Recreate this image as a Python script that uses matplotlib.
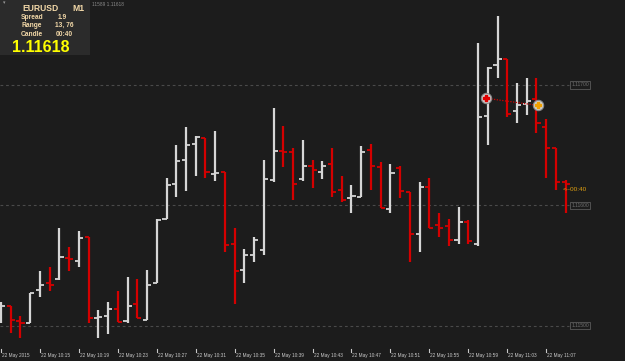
import matplotlib
matplotlib.use("Agg")
import matplotlib.pyplot as plt
import matplotlib.transforms as mtransforms

# ---- data (EURUSD M1, 22 May 2015, 10:11 .. 11:09) ----
times = ["10:11", "10:12", "10:13", "10:14", "10:15", "10:16", "10:17", "10:18", "10:19", "10:20",
         "10:21", "10:22", "10:23", "10:24", "10:25", "10:26", "10:27", "10:28", "10:29", "10:30",
         "10:31", "10:32", "10:33", "10:34", "10:35", "10:36", "10:37", "10:38", "10:39", "10:40",
         "10:41", "10:42", "10:43", "10:44", "10:45", "10:46", "10:47", "10:48", "10:49", "10:50",
         "10:51", "10:52", "10:53", "10:54", "10:55", "10:56", "10:57", "10:58", "10:59", "11:00",
         "11:01", "11:02", "11:03", "11:04", "11:05", "11:06", "11:07", "11:08", "11:09"]
opens = [1.11506, 1.11516, 1.11504, 1.11502, 1.11530, 1.11535, 1.11539, 1.11556, 1.11554, 1.11574,
         1.11506, 1.11508, 1.11514, 1.11504, 1.11518, 1.11505, 1.11535, 1.11589, 1.11618, 1.11638,
         1.11651, 1.11656, 1.11626, 1.11628, 1.11568, 1.11546, 1.11559, 1.11563, 1.11621, 1.11645,
         1.11644, 1.11622, 1.11633, 1.11628, 1.11634, 1.11613, 1.11606, 1.11607, 1.11646, 1.11632,
         1.11597, 1.11631, 1.11611, 1.11576, 1.11615, 1.11584, 1.11583, 1.11571, 1.11586, 1.11568,
         1.11674, 1.11717, 1.11722, 1.11678, 1.11684, 1.11688, 1.11665, 1.11648, 1.11619]
highs = [1.11520, 1.11516, 1.11508, 1.11527, 1.11545, 1.11549, 1.11581, 1.11565, 1.11579, 1.11574,
         1.11513, 1.11520, 1.11529, 1.11540, 1.11539, 1.11546, 1.11589, 1.11623, 1.11650, 1.11665,
         1.11658, 1.11656, 1.11662, 1.11628, 1.11581, 1.11564, 1.11574, 1.11638, 1.11681, 1.11666,
         1.11648, 1.11654, 1.11638, 1.11637, 1.11648, 1.11624, 1.11617, 1.11649, 1.11651, 1.11636,
         1.11634, 1.11633, 1.11611, 1.11619, 1.11623, 1.11594, 1.11589, 1.11599, 1.11588, 1.11735,
         1.11715, 1.11757, 1.11722, 1.11702, 1.11706, 1.11706, 1.11672, 1.11648, 1.11621]
lows = [1.11502, 1.11494, 1.11490, 1.11502, 1.11524, 1.11529, 1.11538, 1.11545, 1.11549, 1.11502,
        1.11490, 1.11493, 1.11503, 1.11502, 1.11506, 1.11505, 1.11535, 1.11589, 1.11607, 1.11612,
        1.11624, 1.11623, 1.11620, 1.11561, 1.11518, 1.11535, 1.11553, 1.11559, 1.11619, 1.11632,
        1.11604, 1.11620, 1.11614, 1.11622, 1.11607, 1.11603, 1.11594, 1.11607, 1.11613, 1.11598,
        1.11594, 1.11606, 1.11553, 1.11561, 1.11581, 1.11574, 1.11566, 1.11568, 1.11568, 1.11566,
        1.11650, 1.11706, 1.11673, 1.11668, 1.11675, 1.11660, 1.11623, 1.11613, 1.11594]
closes = [1.11516, 1.11505, 1.11502, 1.11527, 1.11534, 1.11534, 1.11557, 1.11555, 1.11573, 1.11506,
          1.11507, 1.11514, 1.11503, 1.11516, 1.11506, 1.11534, 1.11588, 1.11617, 1.11637, 1.11650,
          1.11657, 1.11628, 1.11627, 1.11567, 1.11545, 1.11559, 1.11571, 1.11622, 1.11645, 1.11644,
          1.11618, 1.11633, 1.11629, 1.11633, 1.11611, 1.11604, 1.11608, 1.11644, 1.11633, 1.11598,
          1.11627, 1.11612, 1.11576, 1.11615, 1.11581, 1.11581, 1.11571, 1.11586, 1.11570, 1.11673,
          1.11714, 1.11722, 1.11676, 1.11683, 1.11687, 1.11668, 1.11648, 1.11619, 1.11618]
level_prices = [1.11700, 1.11600, 1.11500]
level_labels = ["1.11700", "1.11600", "1.11500"]
trade_bars = [49.8, 55.2]
trade_prices = [1.11689, 1.11683]
symbol = "EURUSD"
timeframe = "M1"
spread = "1.9"
range_txt = "13, 76"
candle_left = "00:40"
bid = "1.11618"
date_label = "22 May 2015"
day_label = "22 May"

# ---- figure ----
W, H = 625, 361
fig = plt.figure(figsize=(W / 100, H / 100), dpi=100)
bg = "#1c1c1c"
fig.patch.set_facecolor(bg)
ax = fig.add_axes([0, 0, 1, 1])
ax.set_facecolor(bg)
for s in ax.spines.values():
    s.set_visible(False)
ax.set_xticks([])
ax.set_yticks([])

px_per_bar = 9.72
x0 = 1.0 / px_per_bar
ax.set_xlim(-x0, (W - 1) / px_per_bar - x0)
px_per_price = 120300.0
ax.set_ylim(1.11700 - (H - 85) / px_per_price, 1.11700 + 85 / px_per_price)

# price levels (dashed) with boxed labels at right
right_edge = (568) / px_per_bar - x0
for p, lab in zip(level_prices, level_labels):
    ax.plot([-x0, right_edge], [p, p], color="#4a4a4a", lw=0.8, ls=(0, (2.5, 2.5)), zorder=1)
    ax.text(right_edge + 0.25, p, lab, color="#6e6e6e", fontsize=3.6, family="Liberation Sans",
            va="center", ha="left",
            bbox=dict(boxstyle="square,pad=0.25", fc=bg, ec="#5a5a5a", lw=0.6), zorder=3)

# bars
up_col = "#d6d6d6"
dn_col = "#d40000"
tk = 0.42
for i in range(len(opens)):
    o, h, l, c = opens[i], highs[i], lows[i], closes[i]
    col = up_col if c >= o else dn_col
    ax.vlines(i, l, h, color=col, lw=1.6, zorder=4)
    ax.hlines(o, i - tk, i, color=col, lw=1.3, zorder=4)
    ax.hlines(c, i, i + tk, color=col, lw=1.3, zorder=4)

# trade markers
ax.plot(trade_bars, trade_prices, color="#d40000", lw=0.9, ls=(0, (1, 1.2)), zorder=5)
ax.scatter(trade_bars, trade_prices, s=55, c="#cfcfcf", edgecolors="#8a8a8a", linewidths=0.8, zorder=6)
ax.scatter(trade_bars[:1], trade_prices[:1], s=14, c="#e00000", marker="P", zorder=7)
ax.scatter(trade_bars[1:], trade_prices[1:], s=14, c="#f0a000", marker="P", zorder=7)

# countdown label
ax.text(len(opens) - 1 - 0.3, closes[-1] - 0.00005, "<--" + candle_left, color="#e0a010",
        fontsize=4.6, family="Liberation Sans", va="center", ha="left", zorder=8)

# time axis
trans = mtransforms.blended_transform_factory(ax.transData, ax.transAxes)
axis_y = 1 - 349 / H
ax.axhline(1 - 349 / H, color="#c8c8c8", lw=1.0, zorder=2)
for i in range(0, len(times), 4):
    lab = date_label if i == 0 else f"{day_label} {times[i]}"
    ax.plot([i, i], [axis_y, axis_y - 3 / H], transform=trans, color="#c8c8c8", lw=0.8, clip_on=False)
    ax.text(i + 0.1, 1 - 355 / H, lab, transform=trans, color="#c8c8c8", fontsize=3.4,
            family="Liberation Sans", va="center", ha="left")

# header
fig.text(92 / W, 1 - 5 / H, "11589 1.11618", color="#8a8a8a", fontsize=3.4,
         family="Liberation Sans", va="center", ha="left")

# info panel
panel = plt.Rectangle((0, 1 - 55 / H), 90 / W, 55 / H, transform=fig.transFigure,
                      fc="#2b2b2b", ec="none", zorder=9)
fig.patches.append(panel)
tan = "#f2d8a8"
fig.text(3 / W, 1 - 3 / H, "\u25be", color="#9a9a9a", fontsize=3.5, va="center", ha="left", zorder=10)
fig.text(22 / W, 1 - 8.5 / H, symbol, color=tan, fontsize=6.2, fontweight="bold",
         family="Liberation Sans", va="center", ha="left", zorder=10)
fig.text(72 / W, 1 - 8.5 / H, timeframe, color=tan, fontsize=6.2, fontweight="bold",
         family="Liberation Sans", va="center", ha="left", zorder=10)
rows = [("Spread", spread, 17.3, 58), ("Range", range_txt, 25.6, 55), ("Candle", candle_left, 34.2, 56)]
for name, val, yy, xv in rows:
    fig.text(21 / W, 1 - yy / H, name, color=tan, fontsize=4.8, fontweight="bold",
             family="Liberation Sans", va="center", ha="left", zorder=10)
    fig.text(xv / W, 1 - yy / H, val, color=tan, fontsize=4.8, fontweight="bold",
             family="Liberation Sans", va="center", ha="left", zorder=10)
fig.text(12 / W, 1 - 47 / H, bid, color="#ffff00", fontsize=11.5, fontweight="bold",
         family="Liberation Sans", va="center", ha="left", zorder=10)

fig.savefig("out.png", dpi=100, facecolor=bg)
